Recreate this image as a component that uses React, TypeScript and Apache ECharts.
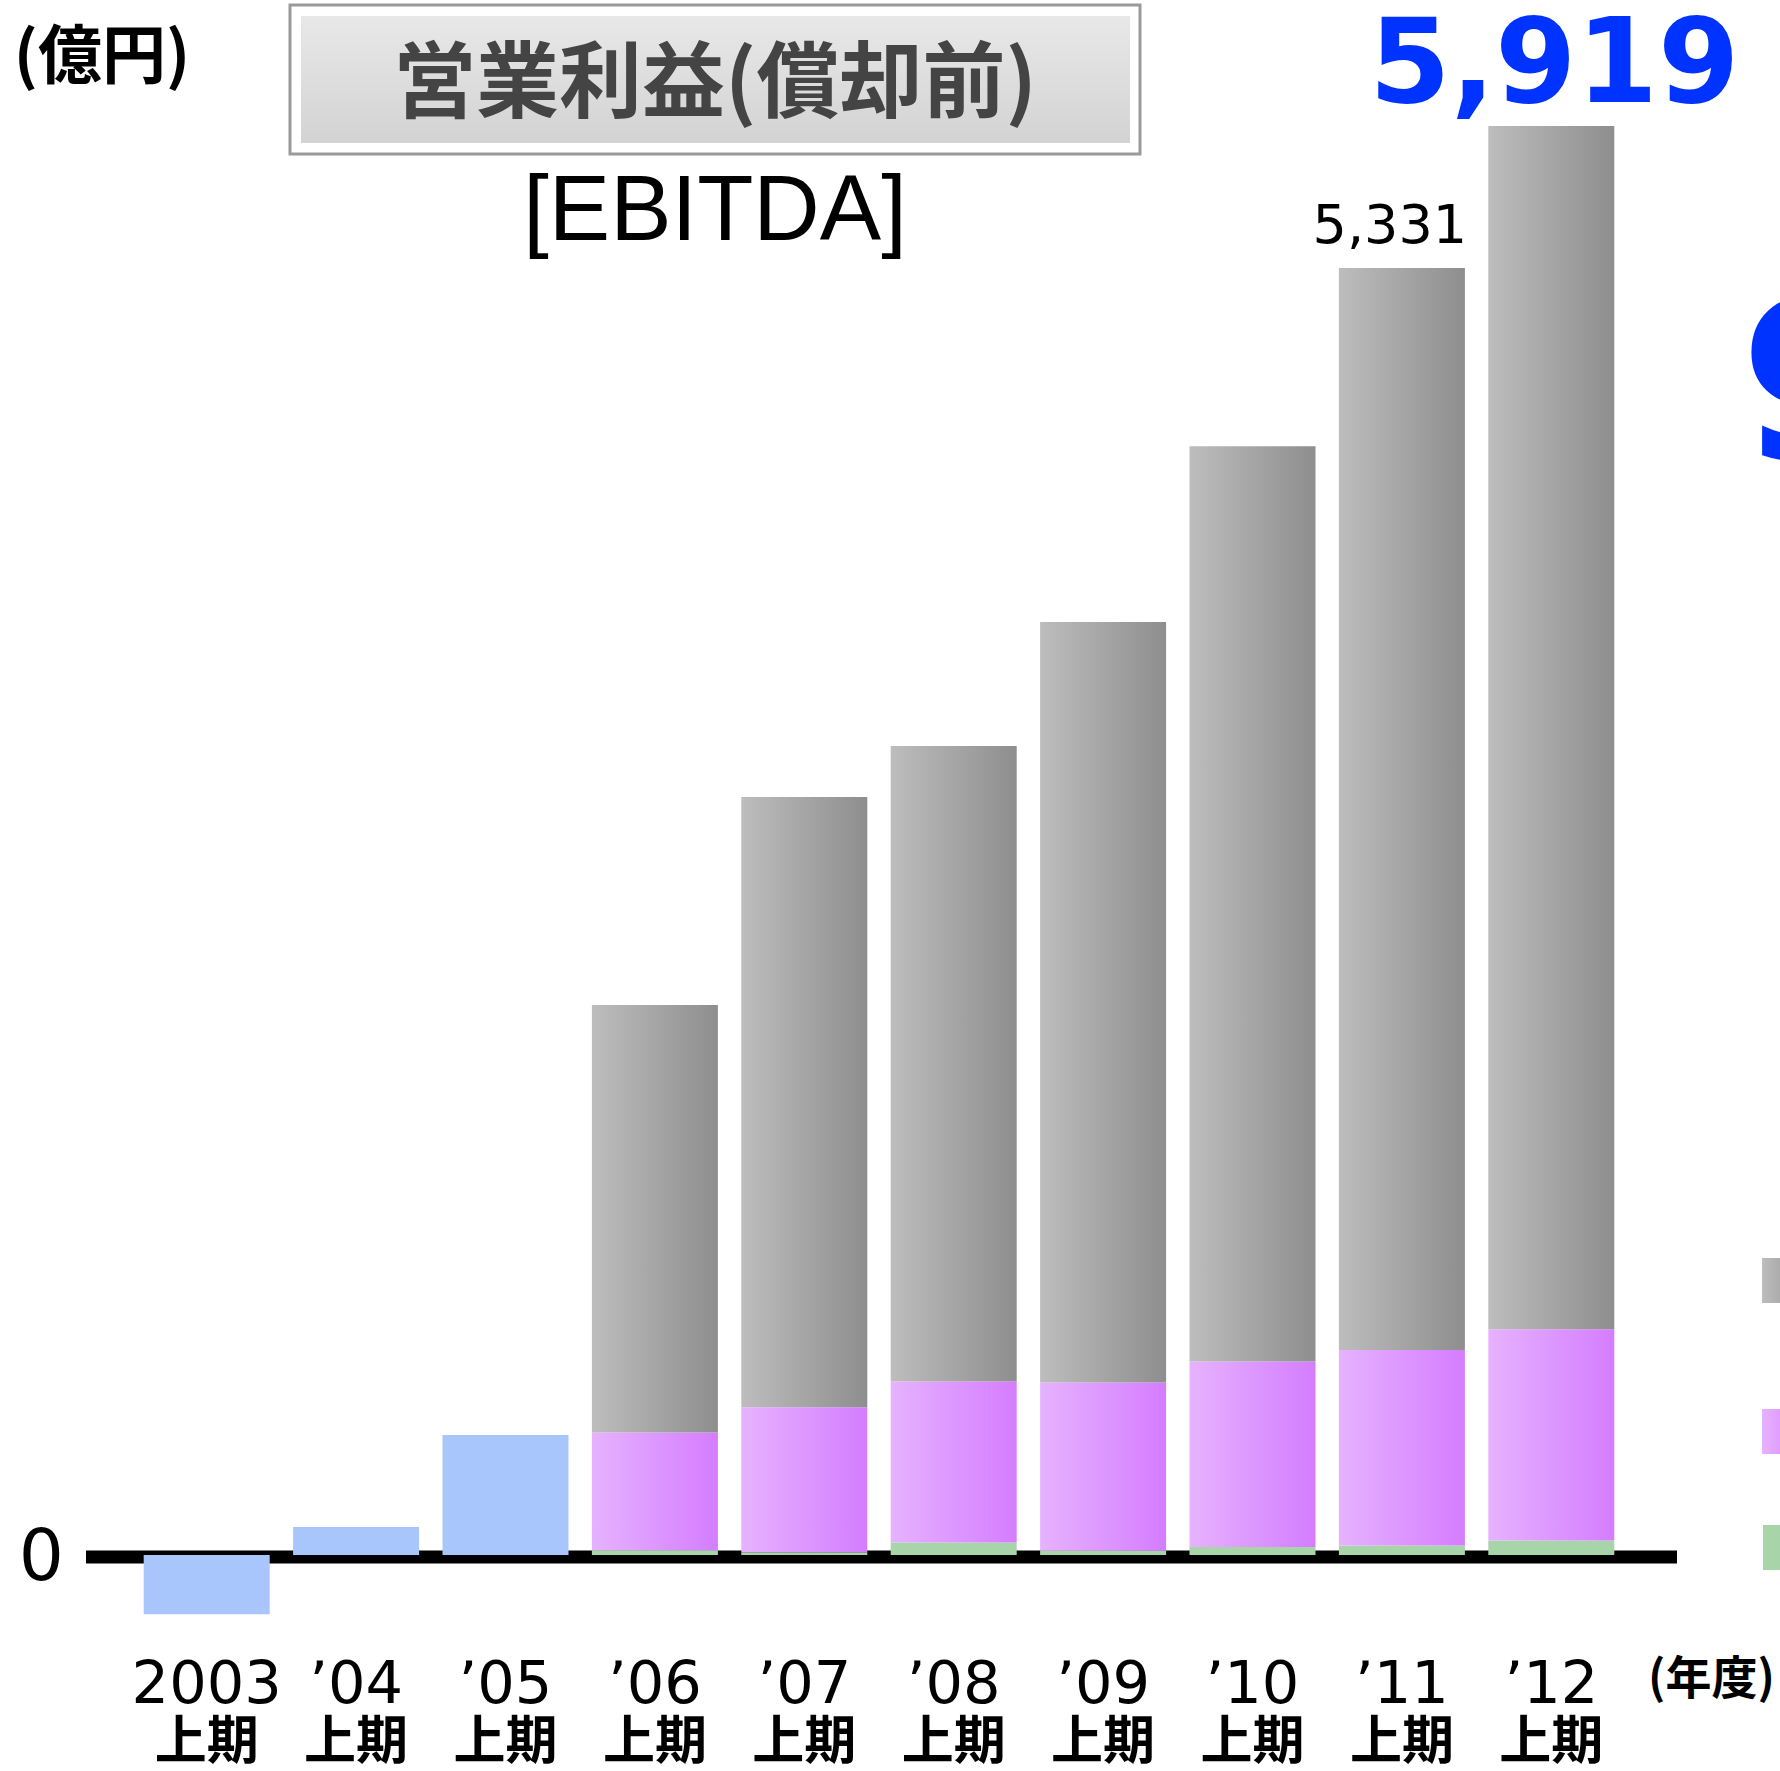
import React, { useEffect, useRef } from 'react';
import * as echarts from 'echarts';

// ---- data (億円, 上期) ----
const categories = ['2003', '’04', '’05', '’06', '’07', '’08', '’09', '’10', '’11', '’12'];
const periodLabel = '上期';
const blueValues = [-245, 116, 497, null, null, null, null, null, null, null];
const greenValues = [null, null, null, 20, 12, 52, 18, 33, 39, 60];
const purpleValues = [null, null, null, 488, 600, 667, 697, 769, 810, 875];
const grayValues = [null, null, null, 1770, 2528, 2632, 3150, 3791, 4482, 4984];
const smallTotalIndex = 8; // '11 total printed in black
const bigTotalIndex = 9; // '12 total printed in blue
const yMin = -400;
const yMax = 6000;
const yInterval = 400;
const titleText = '営業利益(償却前)';
const subtitleText = '[EBITDA]';
const yUnit = '(億円)';
const xUnit = '(年度)';

const CJK = '"Noto Sans CJK JP", "Noto Sans CJK SC", sans-serif';
const DEJA = '"DejaVu Sans", sans-serif';

const toBar = (arr: (number | null)[]) => arr.map((v) => (v === null ? '-' : v));
const totalAt = (i: number) =>
  (greenValues[i] || 0) + (purpleValues[i] || 0) + (grayValues[i] || 0) + (blueValues[i] || 0);

export default function App() {
  const ref = useRef<HTMLDivElement>(null);

  useEffect(() => {
    if (!ref.current) return;
    const chart = echarts.init(ref.current, undefined, { renderer: 'svg' });

    const grayGrad = new echarts.graphic.LinearGradient(0, 0, 1, 0, [
      { offset: 0, color: '#bdbdbd' },
      { offset: 1, color: '#8e8e8e' },
    ]);
    const purpleGrad = new echarts.graphic.LinearGradient(0, 0, 1, 0, [
      { offset: 0, color: '#e6b2ff' },
      { offset: 1, color: '#d47dff' },
    ]);

    const grayData = grayValues.map((v, i) => {
      if (i === smallTotalIndex) {
        return {
          value: v,
          label: {
            show: true,
            position: 'top',
            distance: 17,
            offset: [-12, 0],
            fontFamily: DEJA,
            fontSize: 54,
            color: '#000',
          },
        };
      }
      if (i === bigTotalIndex) {
        return {
          value: v,
          label: {
            show: true,
            position: 'top',
            distance: 6,
            offset: [3, 0],
            fontFamily: DEJA,
            fontWeight: 'bold',
            fontSize: 117,
            color: '#0033ff',
          },
        };
      }
      return v === null ? '-' : v;
    });

    const totalFormatter = (p: any) => totalAt(p.dataIndex).toLocaleString('en-US');

    chart.setOption({
      animation: false,
      backgroundColor: '#ffffff',
      grid: { left: 132, right: 154, top: 106.5, bottom: 119.4, outerBoundsMode: 'none' },
      legend: [
        {
          data: ['移動通信'],
          left: 1762,
          top: 1258,
          padding: 0,
          icon: 'rect',
          itemWidth: 50,
          itemHeight: 45,
          formatter: () => '',
        },
        {
          data: ['ブロードバンド'],
          left: 1762,
          top: 1409,
          padding: 0,
          icon: 'rect',
          itemWidth: 50,
          itemHeight: 45,
          formatter: () => '',
        },
        {
          data: ['固定通信'],
          left: 1763,
          top: 1525,
          padding: 0,
          icon: 'rect',
          itemWidth: 50,
          itemHeight: 45,
          formatter: () => '',
        },
      ],
      xAxis: {
        type: 'category',
        position: 'bottom',
        data: categories,
        axisLine: { show: false, onZero: false },
        axisTick: { show: false },
        splitLine: { show: false },
        axisLabel: {
          interval: 0,
          margin: 0,
          formatter: (v: string) => `{y|${v}}\n{h|${periodLabel}}`,
          rich: {
            y: { fontFamily: DEJA, fontSize: 59, lineHeight: 62, color: '#000' },
            h: { fontFamily: CJK, fontWeight: 'bold', fontSize: 52, lineHeight: 46, color: '#000' },
          },
        },
      },
      yAxis: {
        type: 'value',
        min: yMin,
        max: yMax,
        interval: yInterval,
        axisLine: { show: false },
        axisTick: { show: false },
        splitLine: { show: false },
        name: yUnit,
        nameLocation: 'end',
        nameGap: 25,
        nameTextStyle: {
          fontFamily: CJK,
          fontWeight: 'bold',
          fontSize: 64,
          color: '#000',
          align: 'center',
          verticalAlign: 'bottom',
          padding: [0, 60, 0, 0],
        },
        axisLabel: {
          margin: 68,
          fontFamily: DEJA,
          fontSize: 71,
          color: '#000',
          formatter: (v: number) => (v === 0 ? '0' : ''),
        },
      },
      series: [
        {
          name: 'ソフトバンクBB',
          type: 'bar',
          stack: 'total',
          barWidth: 126,
          data: toBar(blueValues),
          itemStyle: { color: '#a9c6fc' },
          z: 3,
        },
        {
          name: '固定通信',
          type: 'bar',
          stack: 'total',
          barWidth: 126,
          data: toBar(greenValues),
          itemStyle: { color: '#a8d4a9' },
          z: 3,
        },
        {
          name: 'ブロードバンド',
          type: 'bar',
          stack: 'total',
          barWidth: 126,
          data: toBar(purpleValues),
          itemStyle: { color: purpleGrad },
          z: 3,
        },
        {
          name: '移動通信',
          type: 'bar',
          stack: 'total',
          barWidth: 126,
          data: grayData,
          itemStyle: { color: grayGrad },
          label: { show: false, formatter: totalFormatter },
          z: 3,
        },
      ],
    });

    const y0 = chart.convertToPixel({ yAxisIndex: 0 }, 0) as number;

    chart.setOption({
      graphic: {
        elements: [
          {
            type: 'line',
            z: 1,
            shape: { x1: 86, y1: y0 + 2, x2: 1677, y2: y0 + 2 },
            style: { stroke: '#000', lineWidth: 13 },
          },
          {
            type: 'rect',
            z: 1,
            shape: { x: 290, y: 5, width: 850, height: 149 },
            style: { fill: '#fff', stroke: '#9a9a9a', lineWidth: 3 },
          },
          {
            type: 'rect',
            z: 2,
            shape: { x: 301, y: 16, width: 829, height: 127 },
            style: {
              fill: new echarts.graphic.LinearGradient(0, 0, 0, 1, [
                { offset: 0, color: '#e8e8e8' },
                { offset: 1, color: '#d3d3d3' },
              ]),
            },
          },
          {
            type: 'text',
            z: 3,
            x: 715,
            y: 75,
            style: {
              text: titleText,
              fontFamily: CJK,
              fontWeight: 'bold',
              fontSize: 83,
              fill: '#444',
              align: 'center',
              verticalAlign: 'middle',
              textAlign: 'center',
              textVerticalAlign: 'middle',
            },
          },
          {
            type: 'text',
            z: 3,
            x: 715,
            y: 208,
            style: {
              text: subtitleText,
              fontFamily: '"Liberation Sans", Arial, sans-serif',
              fontSize: 92,
              fill: '#000',
              align: 'center',
              verticalAlign: 'middle',
              textAlign: 'center',
              textVerticalAlign: 'middle',
            },
          },
          {
            type: 'text',
            z: 3,
            x: 1648,
            y: 1674,
            style: {
              text: xUnit,
              fontFamily: CJK,
              fontWeight: 'bold',
              fontSize: 46,
              fill: '#000',
              align: 'left',
              verticalAlign: 'middle',
              textAlign: 'left',
              textVerticalAlign: 'middle',
            },
          },
          {
            type: 'text',
            z: 3,
            x: 1740,
            y: 382,
            style: {
              text: '9',
              fontFamily: DEJA,
              fontWeight: 'bold',
              fontSize: 221,
              fill: '#0033ff',
              align: 'left',
              verticalAlign: 'middle',
              textAlign: 'left',
              textVerticalAlign: 'middle',
            },
          },
        ],
      },
    });

    return () => chart.dispose();
  }, []);

  return (
    <div
      ref={ref}
      style={{ position: 'absolute', left: 0, top: 0, width: 1780, height: 1771, background: '#fff' }}
    />
  );
}
